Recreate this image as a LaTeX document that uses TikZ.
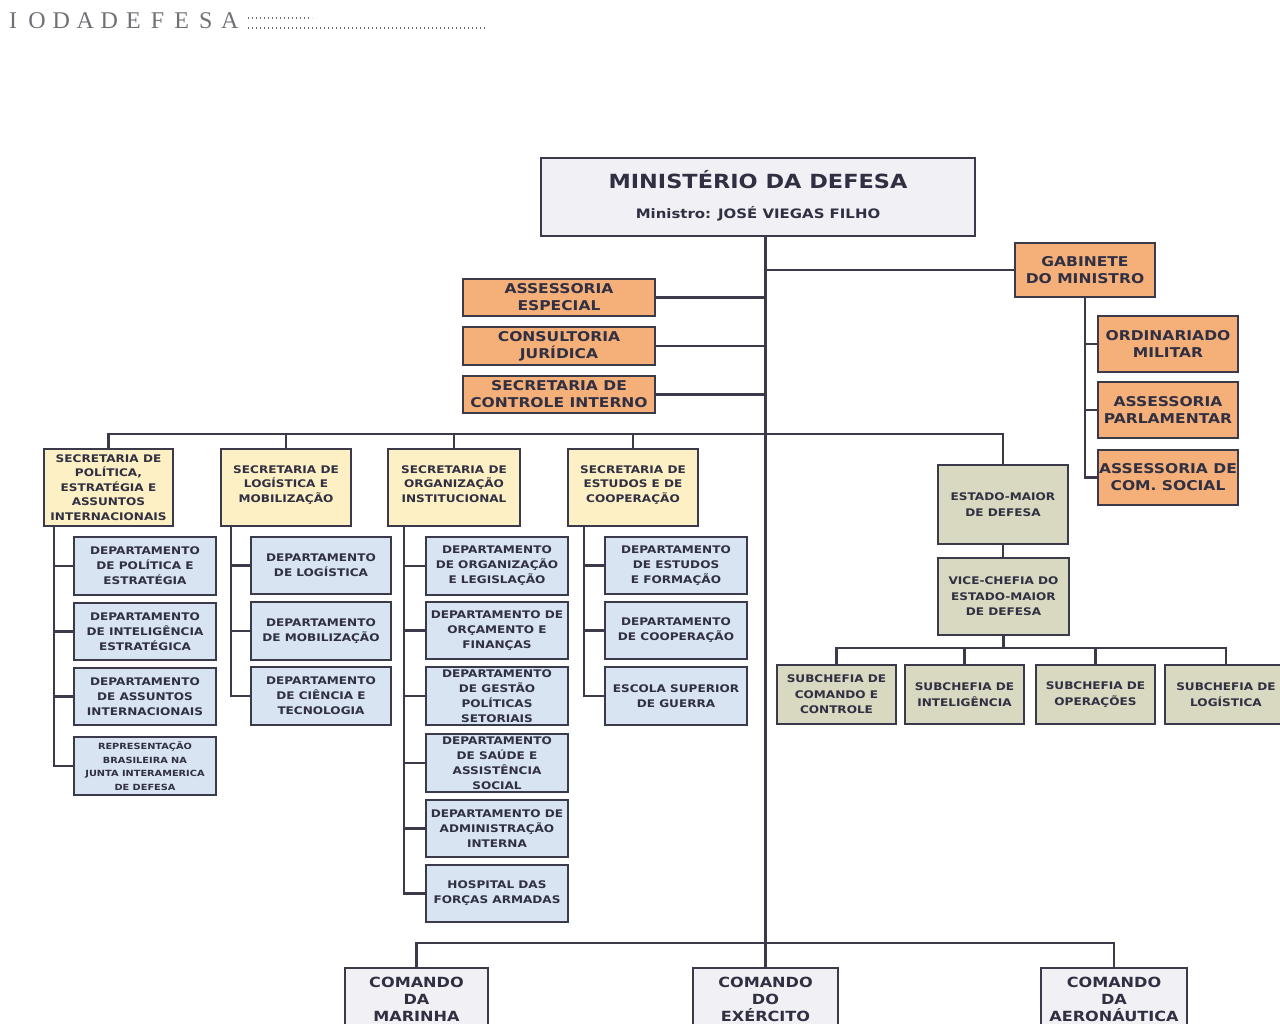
\documentclass[tikz,border=0pt]{standalone}
\usepackage{fontspec}
\newfontfamily\orgf{DejaVu Sans Bold}[FakeStretch=1.15]
\newfontfamily\hdrf{Liberation Serif}
\definecolor{linec}{RGB}{58,58,74}
\definecolor{textc}{RGB}{48,48,66}
\definecolor{graybox}{RGB}{240,240,245}
\definecolor{orangec}{RGB}{245,176,122}
\definecolor{yellowc}{RGB}{253,240,196}
\definecolor{bluec}{RGB}{216,228,242}
\definecolor{olivec}{RGB}{217,216,192}
\definecolor{hdrc}{RGB}{112,112,118}
\tikzset{
  x=1pt, y=-1pt,
  base/.style={draw=linec, line width=1.8pt, align=center, inner sep=0pt, text=textc},
  mainbox/.style={base, fill=graybox, line width=2.2pt},
  orangebox/.style={base, fill=orangec, font=\orgf\fontsize{13.5}{17}\selectfont},
  secbox/.style={base, fill=yellowc, font=\orgf\fontsize{10.5}{14.5}\selectfont},
  deptbox/.style={base, fill=bluec, font=\orgf\fontsize{10.5}{15}\selectfont},
  repbox/.style={base, fill=bluec, font=\orgf\fontsize{8.5}{13.5}\selectfont},
  emgbox/.style={base, fill=olivec, font=\orgf\fontsize{10.5}{15.5}\selectfont},
  cmdbox/.style={base, fill=graybox, font=\orgf\fontsize{14}{17}\selectfont},
  conn/.style={draw=linec, line width=2.2pt},
  hdr/.style={inner sep=0pt, text=hdrc, font=\hdrf\fontsize{24}{28}\selectfont},
  hdrdots/.style={draw=hdrc, line width=1.5pt, dash pattern=on 1.3pt off 2.7pt},
  titletext/.style={inner sep=0pt, text=textc, font=\orgf\fontsize{19.5}{23}\selectfont},
  subtext/.style={inner sep=0pt, text=textc, font=\orgf\fontsize{13}{16}\selectfont},
}
\newcommand{\orgbox}[7]{%
  \node[#2, minimum width={#5pt-#3pt}, minimum height={#6pt-#4pt}] (#1) at ({(#3+#5)/2},{(#4+#6)/2}) {#7};}
\begin{document}
\begin{tikzpicture}
\path[use as bounding box, fill=white] (0,0) rectangle (1280,1023);
\clip (0,0) rectangle (1280,1023);

% header
\foreach \ch [count=\i] in {I,O,D,A,D,E,F,E,S,A}
  \node[hdr] (h\i) at ({13+24.1*(\i-1)},21) {\ch};
\coordinate (dotA1) at (248,18); \coordinate (dotA2) at (312,18);
\coordinate (dotB1) at (248,28); \coordinate (dotB2) at (485,28);
\draw[hdrdots] (dotA1) -- (dotA2);
\draw[hdrdots] (dotB1) -- (dotB2);

% connectors first (boxes drawn over their ends)
\coordinate (busS) at (0,434);
\coordinate (busSub) at (0,648);
\coordinate (busB) at (0,943);

% ministry
\orgbox{min}{mainbox}{541}{158}{975}{236}{}
\node[titletext] (mint) at (758,180) {MINISTÉRIO DA DEFESA};
\node[subtext] (mins) at (758,214) {Ministro: JOSÉ VIEGAS FILHO};

% left orange
\orgbox{ae}{orangebox}{463}{279}{655}{316}{ASSESSORIA\\ESPECIAL}
\orgbox{cj}{orangebox}{463}{327}{655}{365}{CONSULTORIA\\JURÍDICA}
\orgbox{sci}{orangebox}{463}{376}{655}{413}{SECRETARIA DE\\CONTROLE INTERNO}

% gabinete
\orgbox{gab}{orangebox}{1015}{243}{1155}{297}{GABINETE\\DO MINISTRO}
\orgbox{om}{orangebox}{1098}{316}{1238}{372}{ORDINARIADO\\MILITAR}
\orgbox{ap}{orangebox}{1098}{382}{1238}{438}{ASSESSORIA\\PARLAMENTAR}
\orgbox{acs}{orangebox}{1098}{450}{1238}{505}{ASSESSORIA DE\\COM. SOCIAL}

% secretarias
\orgbox{s1}{secbox}{44}{449}{173}{526}{SECRETARIA DE\\POLÍTICA,\\ESTRATÉGIA E\\ASSUNTOS\\INTERNACIONAIS}
\orgbox{s2}{secbox}{221}{449}{351}{526}{SECRETARIA DE\\LOGÍSTICA E\\MOBILIZAÇÃO\\[-7pt]}
\orgbox{s3}{secbox}{388}{449}{520}{526}{SECRETARIA DE\\ORGANIZAÇÃO\\INSTITUCIONAL\\[-7pt]}
\orgbox{s4}{secbox}{568}{449}{698}{526}{SECRETARIA DE\\ESTUDOS E DE\\COOPERAÇÃO\\[-7pt]}

% column 1
\orgbox{d11}{deptbox}{74}{537}{216}{595}{DEPARTAMENTO\\DE POLÍTICA E\\ESTRATÉGIA}
\orgbox{d12}{deptbox}{74}{603}{216}{660}{DEPARTAMENTO\\DE INTELIGÊNCIA\\ESTRATÉGICA}
\orgbox{d13}{deptbox}{74}{668}{216}{725}{DEPARTAMENTO\\DE ASSUNTOS\\INTERNACIONAIS}
\orgbox{d14}{repbox}{74}{737}{216}{795}{REPRESENTAÇÃO\\BRASILEIRA NA\\JUNTA INTERAMERICA\\DE DEFESA}
% column 2
\orgbox{d21}{deptbox}{251}{537}{391}{594}{DEPARTAMENTO\\DE LOGÍSTICA}
\orgbox{d22}{deptbox}{251}{602}{391}{660}{DEPARTAMENTO\\DE MOBILIZAÇÃO}
\orgbox{d23}{deptbox}{251}{667}{391}{725}{DEPARTAMENTO\\DE CIÊNCIA E\\TECNOLOGIA}
% column 3
\orgbox{d31}{deptbox}{426}{537}{568}{595}{DEPARTAMENTO\\DE ORGANIZAÇÃO\\E LEGISLAÇÃO}
\orgbox{d32}{deptbox}{426}{602}{568}{659}{DEPARTAMENTO DE\\ORÇAMENTO E\\FINANÇAS}
\orgbox{d33}{deptbox}{426}{667}{568}{725}{DEPARTAMENTO\\DE GESTÃO\\POLÍTICAS\\SETORIAIS}
\orgbox{d34}{deptbox}{426}{734}{568}{792}{DEPARTAMENTO\\DE SAÚDE E\\ASSISTÊNCIA\\SOCIAL}
\orgbox{d35}{deptbox}{426}{800}{568}{857}{DEPARTAMENTO DE\\ADMINISTRAÇÃO\\INTERNA}
\orgbox{d36}{deptbox}{426}{865}{568}{922}{HOSPITAL DAS\\FORÇAS ARMADAS}
% column 4
\orgbox{d41}{deptbox}{605}{537}{747}{594}{DEPARTAMENTO\\DE ESTUDOS\\E FORMAÇÃO}
\orgbox{d42}{deptbox}{605}{602}{747}{659}{DEPARTAMENTO\\DE COOPERAÇÃO}
\orgbox{d43}{deptbox}{605}{667}{747}{725}{ESCOLA SUPERIOR\\DE GUERRA}

% estado-maior
\orgbox{em}{emgbox}{938}{465}{1068}{544}{ESTADO-MAIOR\\DE DEFESA}
\orgbox{vc}{emgbox}{938}{558}{1069}{635}{VICE-CHEFIA DO\\ESTADO-MAIOR\\DE DEFESA}
\orgbox{sc1}{emgbox}{777}{665}{896}{724}{SUBCHEFIA DE\\COMANDO E\\CONTROLE}
\orgbox{sc2}{emgbox}{905}{665}{1024}{724}{SUBCHEFIA DE\\INTELIGÊNCIA}
\orgbox{sc3}{emgbox}{1036}{665}{1155}{724}{SUBCHEFIA DE\\OPERAÇÕES}
\orgbox{sc4}{emgbox}{1165}{665}{1287}{724}{SUBCHEFIA DE\\LOGÍSTICA}

% comandos
\orgbox{cm1}{cmdbox}{345}{968}{488}{1030}{COMANDO\\DA\\MARINHA}
\orgbox{cm2}{cmdbox}{693}{968}{838}{1030}{COMANDO\\DO\\EXÉRCITO}
\orgbox{cm3}{cmdbox}{1041}{968}{1187}{1030}{COMANDO\\DA\\AERONÁUTICA}

\coordinate (sp1) at ([xshift=11pt]s1.south west);
\coordinate (sp2) at ([xshift=11pt]s2.south west);
\coordinate (sp3) at ([xshift=17pt]s3.south west);
\coordinate (sp4) at ([xshift=17pt]s4.south west);

% connectors
\draw[conn] (min.south -| cm2.north) -- (cm2.north);
\draw[conn] (gab.west) -- (gab.west -| cm2.north);
\foreach \b in {ae,cj,sci} \draw[conn] (\b.east) -- (\b.east -| cm2.north);
\draw[conn] (gab.south) |- (acs.west);
\foreach \b in {om,ap} \draw[conn] (\b.west) -- (\b.west -| gab.south);

\draw[conn] (s1.north) -- (s1.north |- busS) -- (em.north |- busS) -- (em.north);
\foreach \b in {s2,s3,s4} \draw[conn] (\b.north) -- (\b.north |- busS);

\draw[conn] (sp1) |- (d14.west);
\foreach \b in {d11,d12,d13} \draw[conn] (\b.west) -- (\b.west -| sp1);
\draw[conn] (sp2) |- (d23.west);
\foreach \b in {d21,d22} \draw[conn] (\b.west) -- (\b.west -| sp2);
\draw[conn] (sp3) |- (d36.west);
\foreach \b in {d31,d32,d33,d34,d35} \draw[conn] (\b.west) -- (\b.west -| sp3);
\draw[conn] (sp4) |- (d43.west);
\foreach \b in {d41,d42} \draw[conn] (\b.west) -- (\b.west -| sp4);

\draw[conn] (em.south) -- (em.south |- vc.north);
\draw[conn] (vc.south) -- (vc.south |- busSub);
\draw[conn] (sc1.north) -- (sc1.north |- busSub) -- (sc4.north |- busSub) -- (sc4.north);
\foreach \b in {sc2,sc3} \draw[conn] (\b.north) -- (\b.north |- busSub);

\draw[conn] (cm1.north) -- (cm1.north |- busB) -- (cm3.north |- busB) -- (cm3.north);
\end{tikzpicture}
\end{document}
